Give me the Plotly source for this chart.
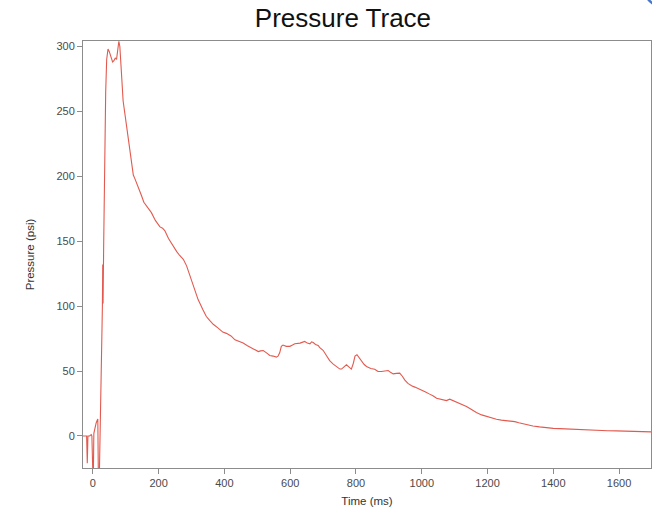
import plotly.graph_objects as go

# Time (ms) and pressure (psi)
time_ms = [-30, -24, -19, -17, -15, -10, -5, -3, -1, 1, 3, 6, 10, 13, 15, 17, 19,
           24, 27, 29, 30, 31, 33, 36, 39, 42, 46, 50, 55, 60, 64, 68, 72, 75, 79, 82,
           85, 88, 92, 100, 107, 115, 123, 128, 133, 140, 148, 155, 163, 170, 178,
           190, 204, 212, 219, 230, 244, 255, 264, 275, 285, 295, 305, 310, 320, 335,
           345, 355, 366, 381, 395, 406, 420, 432, 445, 457, 470, 482, 493, 503, 510,
           518, 528, 538, 548, 558, 563, 568, 573, 578, 588, 599, 607, 614, 630, 644,
           652, 660, 665, 670, 677, 685, 690, 700, 710, 720, 730, 741, 751, 756, 763,
           771, 779, 786, 792, 797, 803, 810, 817, 825, 832, 845, 857, 867, 877, 888,
           898, 905, 913, 923, 933, 941, 948, 958, 969, 979, 990, 999, 1010, 1024,
           1034, 1045, 1060, 1075, 1085, 1097, 1110, 1122, 1136, 1150, 1166, 1182,
           1197, 1212, 1227, 1242, 1257, 1270, 1283, 1295, 1308, 1323, 1338, 1358,
           1379, 1400, 1419, 1440, 1460, 1480, 1500, 1520, 1541, 1565, 1592, 1617,
           1642, 1667, 1697]
pressure_psi = [0, 0, 0, -21, 0, 0, 1, 0, -40, -40, 2, 6, 10, 12, 13, -40, -40,
                30, 62, 100, 132, 102, 150, 215, 265, 290, 298, 296, 292, 288, 289, 291,
                290, 296, 304, 300, 290, 275, 258, 243, 232, 218, 201, 198, 195, 190,
                185, 180, 177, 174, 172, 166, 161, 160, 158, 152, 146, 142, 139, 136,
                131, 124, 117, 113, 105, 97, 92, 89, 86, 83, 80, 79, 77, 74, 73, 71.5,
                69.5, 68, 66, 65, 65.5, 65.8, 64, 62, 61.5, 60.7, 61.5, 64, 69, 70, 69,
                69, 70, 71, 71.5, 72.8, 71.5, 71, 72.5, 72, 70.5, 69.7, 68, 66, 62,
                58, 55.5, 53.5, 51.5, 51.5, 53, 54.8, 53, 51.5, 56, 61.5, 62.5, 60,
                57.5, 55, 53.5, 52, 51.4, 49.6, 49.6, 50, 50.4, 49, 47.8, 48.2, 48.4,
                46, 43.2, 40.5, 38.6, 37.6, 36.5, 35.5, 34, 32.2, 31, 29, 28, 27.2,
                28.3, 27, 25.7, 24.5, 22.6, 20.5, 18, 16.2, 14.9, 13.6, 12.9, 12.2,
                11.8, 11.2, 11, 10.2, 9.3, 8.5, 7.7, 7, 6.2, 5.8, 5.6, 5.3, 5.2, 4.9,
                4.6, 4.3, 4.1, 4.0, 3.9, 3.6, 3.3, 3.2, 3.1]

x_ticks = [0, 200, 400, 600, 800, 1000, 1200, 1400, 1600]
y_ticks = [0, 50, 100, 150, 200, 250, 300]

FONT = "Liberation Sans, Arial, sans-serif"
AXIS_GRAY = "#8c8c8c"

fig = go.Figure()
fig.add_trace(go.Scatter(
    x=time_ms, y=pressure_psi, mode="lines",
    line=dict(color="#e25a4f", width=1.1),
    showlegend=False, hoverinfo="skip",
))

fig.update_layout(
    width=652, height=509,
    margin=dict(l=83, r=1, t=41, b=41),
    paper_bgcolor="white", plot_bgcolor="white",
    title=dict(text="Pressure Trace", x=0.526, xanchor="center",
               y=0.964, yanchor="middle",
               font=dict(family=FONT, size=26, color="#111111")),
    font=dict(family=FONT, color="#444444"),
)

fig.update_xaxes(
    range=[-30, 1697], tickvals=x_ticks, ticks="outside", ticklen=5,
    tickcolor=AXIS_GRAY, showline=True, linecolor=AXIS_GRAY, linewidth=1,
    mirror=True, showgrid=False, zeroline=False,
    tickfont=dict(size=11, color="#4a4a4a"),
    title=dict(text="Time (ms)", font=dict(size=11.5, color="#333333"), standoff=8),
)
fig.update_yaxes(
    range=[-24.7, 304.2], tickvals=y_ticks, ticks="outside", ticklen=5,
    tickcolor=AXIS_GRAY, showline=True, linecolor=AXIS_GRAY, linewidth=1,
    mirror=True, showgrid=False, zeroline=False,
    tickfont=dict(size=11, color="#4a4a4a"),
    title=dict(text="Pressure (psi)", font=dict(size=11.5, color="#333333"), standoff=19),
)

# small blue slide ornament in the top-right corner
fig.add_shape(type="circle", xref="paper", yref="paper",
              x0=(644 - 83) / 568, x1=(684 - 83) / 568,
              y0=(468 - 7) / 427, y1=(468 + 33) / 427,
              line=dict(color="#4a78c8", width=2.5), fillcolor="rgba(0,0,0,0)",
              layer="above")

fig.write_html(
    "out.html",
    config={"displayModeBar": False},
    post_script="document.body.style.margin='0';document.body.style.overflow='hidden';",
)
